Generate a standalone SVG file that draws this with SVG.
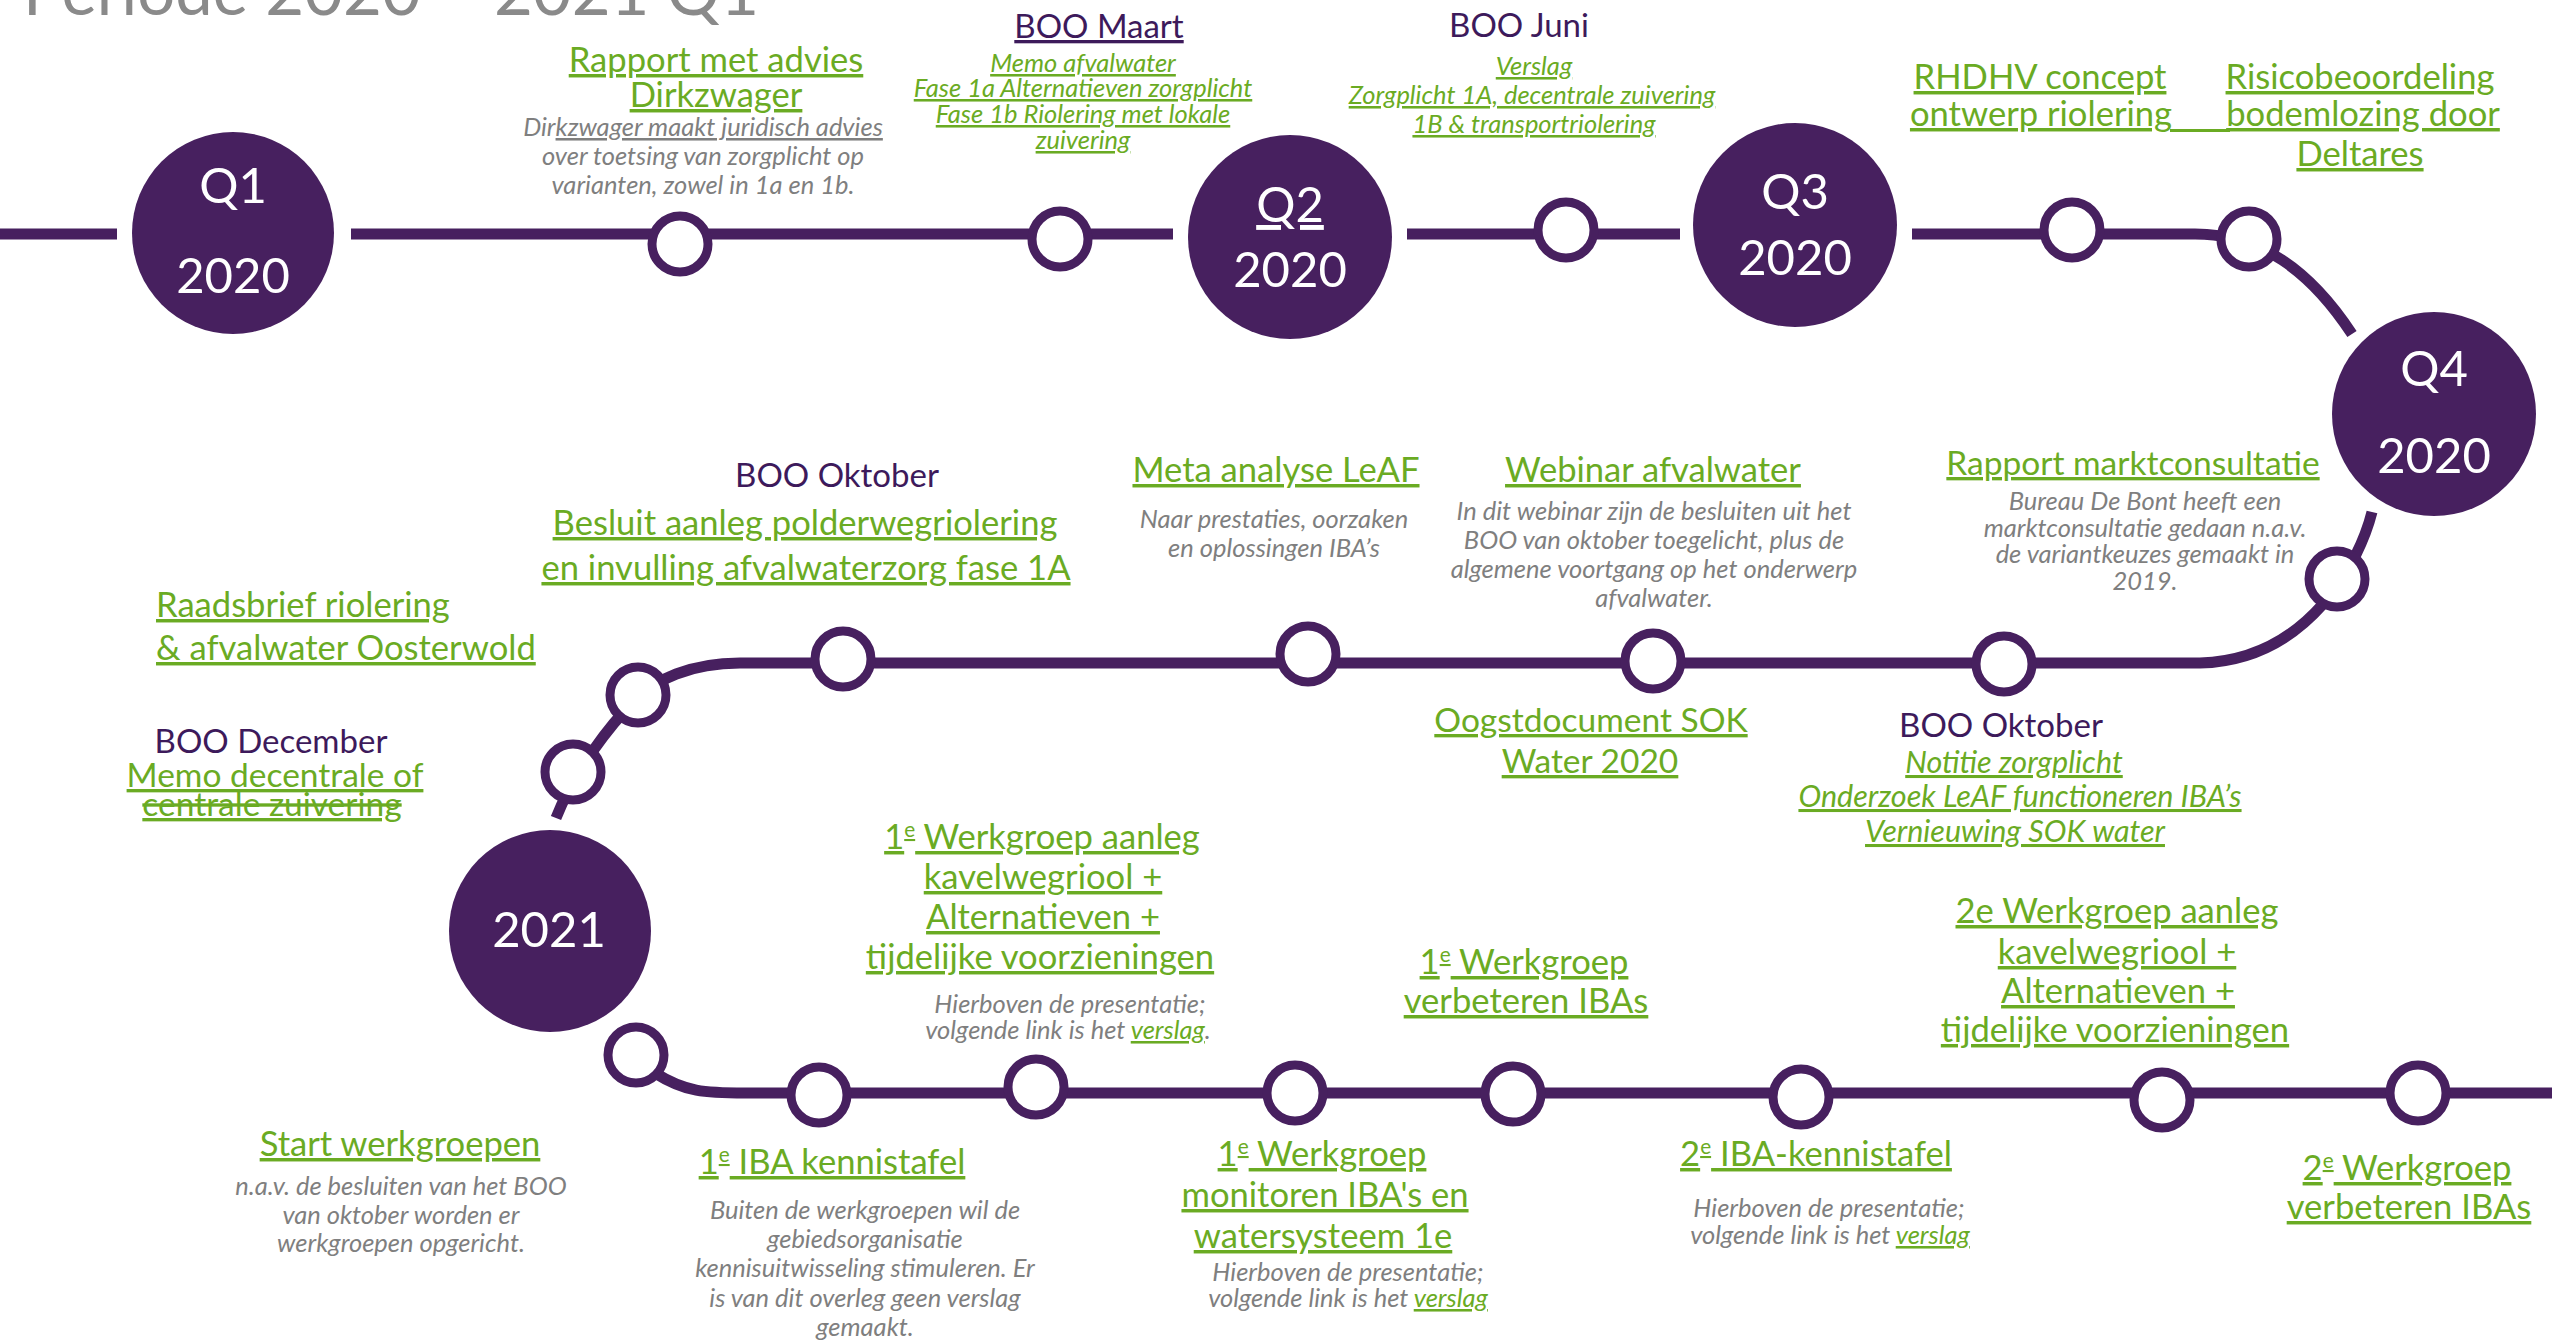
<svg xmlns="http://www.w3.org/2000/svg" width="2552" height="1341" viewBox="0 0 2552 1341">
<style>
text { font-family: Lato, "Liberation Sans", sans-serif; }
.title { font-size: 67px; fill: #8a8a8a; }
.qt { font-size: 49px; fill: #ffffff; text-anchor: middle; }
.big { font-size: 34.6px; fill: #6aab23; text-decoration: underline; text-anchor: middle; }
.sm { font-size: 33.5px; }
.left { text-anchor: start; }
.boo { font-size: 33px; fill: #3d1a5b; text-anchor: middle; }
.gi { font-size: 25.5px; font-style: italic; fill: #6aab23; text-decoration: underline; text-anchor: middle; }
.gi2 { font-size: 30.5px; font-style: italic; fill: #6aab23; text-decoration: underline; text-anchor: middle; }
.gray { font-size: 25.5px; font-style: italic; fill: #7f7f7f; text-anchor: middle; }
.link { fill: #6aab23; text-decoration: underline; }
.ul { text-decoration: underline; }
.q { fill: #47205f; }
.dot { fill: #ffffff; stroke: #47205f; stroke-width: 9; }
.track { fill: none; stroke: #47205f; stroke-width: 11; }
.sup { font-size: 60%; baseline-shift: super; }
</style>

<text class="title" x="23" y="15">Periode 2020 – 2021 Q1</text>

<g id="connectors">
  <path class="track" d="M 0 234 H 117"/>
  <path class="track" d="M 351 234 H 1173"/>
  <path class="track" d="M 1407 234 H 1680"/>
  <path class="track" d="M 1912 234 H 2195 C 2260 234, 2310 270, 2352 334"/>
  <path class="track" d="M 2372 512 C 2360 560, 2310 660, 2200 663 H 740 C 690 663, 655 680, 635 700 C 610 725, 575 770, 556 818"/>
  <path class="track" d="M 655 1073 C 685 1092, 705 1093, 745 1093 H 2552"/>
</g>

<g id="q1-2020">
  <circle class="q" cx="233" cy="233" r="101"/>
  <text class="qt" x="233" y="203">Q1</text>
  <text class="qt" x="233" y="293">2020</text>
</g>
<g id="q2-2020">
  <circle class="q" cx="1290" cy="237" r="102"/>
  <text class="qt ul" x="1290" y="222">Q2</text>
  <text class="qt" x="1290" y="287">2020</text>
</g>
<g id="q3-2020">
  <circle class="q" cx="1795" cy="225" r="102"/>
  <text class="qt" x="1795" y="209">Q3</text>
  <text class="qt" x="1795" y="275">2020</text>
</g>
<g id="q4-2020">
  <circle class="q" cx="2434" cy="414" r="102"/>
  <text class="qt" x="2434" y="386">Q4</text>
  <text class="qt" x="2434" y="473">2020</text>
</g>
<g id="y2021">
  <circle class="q" cx="550" cy="931" r="101"/>
  <text class="qt" x="549" y="947">2021</text>
</g>

<g id="rapport-dirkzwager">
  <circle class="dot" cx="680" cy="244" r="28"/>
  <text class="big" x="716" y="72">Rapport met advies</text>
  <text class="big" x="716" y="107">Dirkzwager</text>
  <text class="gray" x="703" y="136">Dir<tspan class="ul">kzwager maakt juridisch advies</tspan></text>
  <text class="gray" x="703" y="165">over toetsing van zorgplicht op</text>
  <text class="gray" x="703" y="194">varianten, zowel in 1a en 1b.</text>
</g>

<g id="boo-maart">
  <circle class="dot" cx="1060" cy="239" r="28"/>
  <text class="boo ul" x="1099" y="38">BOO Maart</text>
  <text class="gi" x="1083" y="72">Memo afvalwater</text>
  <text class="gi" x="1083" y="97">Fase 1a Alternatieven zorgplicht</text>
  <text class="gi" x="1083" y="123">Fase 1b Riolering met lokale</text>
  <text class="gi" x="1083" y="149">zuivering</text>
</g>

<g id="boo-juni">
  <circle class="dot" cx="1566" cy="230" r="28"/>
  <text class="boo" x="1519" y="37">BOO Juni</text>
  <text class="gi" x="1534" y="75">Verslag</text>
  <text class="gi" x="1532" y="104">Zorgplicht 1A, decentrale zuivering</text>
  <text class="gi" x="1534" y="133">1B &amp; transportriolering</text>
</g>

<g id="rhdhv">
  <circle class="dot" cx="2072" cy="230" r="28"/>
  <text class="big" x="2040" y="89">RHDHV concept</text>
  <text class="big" x="2041" y="126">ontwerp riolering</text>
</g>

<g id="risicobeoordeling">
  <circle class="dot" cx="2249" cy="239" r="28"/>
  <rect x="2170" y="129" width="60" height="3" fill="#6aab23"/>
  <text class="big" x="2360" y="89">Risicobeoordeling</text>
  <text class="big" x="2363" y="126">bodemlozing door</text>
  <text class="big" x="2360" y="166">Deltares</text>
</g>

<g id="rapport-marktconsultatie">
  <circle class="dot" cx="2337" cy="579" r="28"/>
  <text class="big sm" x="2133" y="475">Rapport marktconsultatie</text>
  <text class="gray" x="2145" y="510">Bureau De Bont heeft een</text>
  <text class="gray" x="2145" y="537">marktconsultatie gedaan n.a.v.</text>
  <text class="gray" x="2145" y="563">de variantkeuzes gemaakt in</text>
  <text class="gray" x="2145" y="590">2019.</text>
</g>

<g id="boo-oktober-2">
  <circle class="dot" cx="2004" cy="664" r="28"/>
  <text class="boo" x="2001" y="737">BOO Oktober</text>
  <text class="gi2" x="2014" y="773">Notitie zorgplicht</text>
  <text class="gi2" x="2020" y="807">Onderzoek LeAF functioneren IBA’s</text>
  <text class="gi2" x="2015" y="842">Vernieuwing SOK water</text>
</g>

<g id="webinar">
  <circle class="dot" cx="1653" cy="661" r="28"/>
  <text class="big" x="1653" y="482">Webinar afvalwater</text>
  <text class="gray" x="1654" y="520">In dit webinar zijn de besluiten uit het</text>
  <text class="gray" x="1654" y="549">BOO van oktober toegelicht, plus de</text>
  <text class="gray" x="1654" y="578">algemene voortgang op het onderwerp</text>
  <text class="gray" x="1654" y="607">afvalwater.</text>
</g>

<g id="oogstdocument">
  <text class="big sm" x="1591" y="732">Oogstdocument SOK</text>
  <text class="big sm" x="1590" y="773">Water 2020</text>
</g>

<g id="meta-analyse">
  <circle class="dot" cx="1308" cy="654" r="28"/>
  <text class="big" x="1276" y="482">Meta analyse LeAF</text>
  <text class="gray" x="1274" y="528">Naar prestaties, oorzaken</text>
  <text class="gray" x="1274" y="557">en oplossingen IBA’s</text>
</g>

<g id="boo-oktober-1">
  <circle class="dot" cx="843" cy="659" r="28"/>
  <text class="boo" x="837" y="487">BOO Oktober</text>
  <text class="big" x="805" y="535">Besluit aanleg polderwegriolering</text>
  <text class="big" x="806" y="580">en invulling afvalwaterzorg fase 1A</text>
</g>

<g id="raadsbrief">
  <circle class="dot" cx="638" cy="695" r="28"/>
  <text class="big left" x="156" y="617">Raadsbrief riolering</text>
  <text class="big left" x="156" y="660">&amp; afvalwater Oosterwold</text>
</g>

<g id="boo-december">
  <circle class="dot" cx="573" cy="772" r="28"/>
  <text class="boo" x="271" y="753">BOO December</text>
  <text class="big sm" x="275" y="787">Memo decentrale of</text>
  <text class="big sm" x="272" y="816" style="text-decoration: underline line-through">centrale zuivering</text>
</g>

<g id="start-werkgroepen">
  <circle class="dot" cx="636" cy="1055" r="28"/>
  <text class="big" x="400" y="1156">Start werkgroepen</text>
  <text class="gray" x="401" y="1195">n.a.v. de besluiten van het BOO</text>
  <text class="gray" x="401" y="1224">van oktober worden er</text>
  <text class="gray" x="401" y="1252">werkgroepen opgericht.</text>
</g>

<g id="iba-kennistafel-1">
  <circle class="dot" cx="819" cy="1095" r="28"/>
  <text class="big" x="832" y="1174">1<tspan class="sup">e</tspan> IBA kennistafel</text>
  <text class="gray" x="865" y="1219">Buiten de werkgroepen wil de</text>
  <text class="gray" x="865" y="1248">gebiedsorganisatie</text>
  <text class="gray" x="865" y="1277">kennisuitwisseling stimuleren. Er</text>
  <text class="gray" x="865" y="1307">is van dit overleg geen verslag</text>
  <text class="gray" x="865" y="1336">gemaakt.</text>
</g>

<g id="werkgroep-aanleg-1">
  <circle class="dot" cx="1036" cy="1087" r="28"/>
  <text class="big" x="1042" y="849">1<tspan class="sup">e</tspan> Werkgroep aanleg</text>
  <text class="big" x="1043" y="889">kavelwegriool +</text>
  <text class="big" x="1043" y="929">Alternatieven +</text>
  <text class="big" x="1040" y="969">tijdelijke voorzieningen</text>
  <text class="gray" x="1070" y="1013">Hierboven de presentatie;</text>
  <text class="gray" x="1068" y="1039">volgende link is het <tspan class="link">verslag</tspan>.</text>
</g>

<g id="werkgroep-monitoren-1">
  <circle class="dot" cx="1295" cy="1093" r="28"/>
  <text class="big" x="1322" y="1166">1<tspan class="sup">e</tspan> Werkgroep</text>
  <text class="big" x="1325" y="1207">monitoren IBA's en</text>
  <text class="big" x="1323" y="1248">watersysteem 1e</text>
  <text class="gray" x="1348" y="1281">Hierboven de presentatie;</text>
  <text class="gray" x="1348" y="1307">volgende link is het <tspan class="link">verslag</tspan></text>
</g>

<g id="werkgroep-verbeteren-1">
  <circle class="dot" cx="1513" cy="1094" r="28"/>
  <text class="big" x="1524" y="974">1<tspan class="sup">e</tspan> Werkgroep</text>
  <text class="big" x="1526" y="1013">verbeteren IBAs</text>
</g>

<g id="iba-kennistafel-2">
  <circle class="dot" cx="1801" cy="1097" r="28"/>
  <text class="big" x="1816" y="1166">2<tspan class="sup">e</tspan> IBA-kennistafel</text>
  <text class="gray" x="1829" y="1217">Hierboven de presentatie;</text>
  <text class="gray" x="1830" y="1244">volgende link is het <tspan class="link">verslag</tspan></text>
</g>

<g id="werkgroep-aanleg-2">
  <circle class="dot" cx="2162" cy="1100" r="28"/>
  <text class="big" x="2117" y="923">2e Werkgroep aanleg</text>
  <text class="big" x="2117" y="964">kavelwegriool +</text>
  <text class="big" x="2118" y="1003">Alternatieven +</text>
  <text class="big" x="2115" y="1042">tijdelijke voorzieningen</text>
</g>

<g id="werkgroep-verbeteren-2">
  <circle class="dot" cx="2418" cy="1093" r="28"/>
  <text class="big" x="2407" y="1180">2<tspan class="sup">e</tspan> Werkgroep</text>
  <text class="big" x="2409" y="1219">verbeteren IBAs</text>
</g>
</svg>
